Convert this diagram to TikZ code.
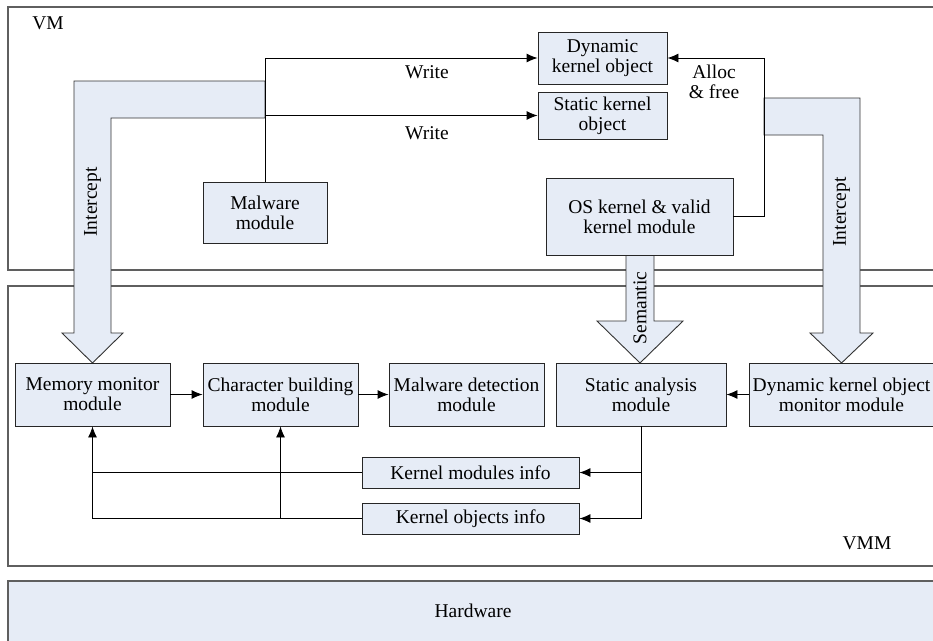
\documentclass[tikz,border=0pt]{standalone}
\usepackage{fontspec}
\setmainfont{Liberation Serif}
\newfontfamily\diagfont{Liberation Serif}
\usetikzlibrary{arrows.meta}
\definecolor{boxfill}{RGB}{230,236,246}
\definecolor{framegray}{RGB}{95,95,95}
\begin{document}
\begin{tikzpicture}[x=1pt,y=-1pt,
  txt/.style={font=\diagfont\fontsize{19.5}{20}\selectfont, inner sep=0pt, align=center},
  box/.style={txt, draw=black!85, fill=boxfill, line width=0.9pt},
  arr/.style={-{Latex[length=11pt,width=9pt]}, line width=0.9pt},
  ln/.style={line width=0.9pt},
  frame/.style={draw=framegray, line width=1.2pt},
  big/.style={draw=black!80, fill=boxfill, line width=0.9pt, line join=miter}]
\useasboundingbox (0,0) rectangle (933,640);
\clip (0,0) rectangle (933,640);
% frames
\draw[frame] (8,7) rectangle (945,270);
\draw[frame] (8,286) rectangle (945,566);
\draw[frame, fill=boxfill] (8,581) rectangle (945,660);
\node[txt] (vmlabel) at (48,23) {VM};
\node[txt] (vmmlabel) at (867,543) {VMM};
\node[txt] (hwlabel) at (473,611) {Hardware};
% big arrows
\draw[big] (265,81) -- (74,81) -- (74,333) -- (62,333) -- (92.5,363) -- (123,333) -- (111,333) -- (111,118) -- (265,118) -- cycle;
\draw[big] (764,98) -- (860,98) -- (860,333) -- (873,333) -- (841.5,363) -- (810,333) -- (823,333) -- (823,135) -- (764,135) -- cycle;
\draw[big] (626,255) -- (654,255) -- (654,321) -- (683,321) -- (640,363) -- (597,321) -- (626,321) -- cycle;
\node[txt, rotate=90] (intl) at (92.5,202) {Intercept};
\node[txt, rotate=90] (intr) at (841.5,212) {Intercept};
\node[txt, rotate=90] (sem) at (640,308) {Semantic};
% boxes
\node[box, minimum width=129pt, minimum height=52pt] (dyn) at (602.5,58) {Dynamic\\kernel object};
\node[box, minimum width=129pt, minimum height=47pt] (stat) at (602.5,115.5) {Static kernel\\object};
\node[box, minimum width=187pt, minimum height=77pt] (os) at (639.5,216.5) {OS kernel \& valid\\kernel module};
\node[box, minimum width=124pt, minimum height=61pt] (mal) at (265,212.5) {Malware\\module};
\node[box, minimum width=155pt, minimum height=63pt] (mem) at (92.5,394.5) {Memory monitor\\module};
\node[box, minimum width=155pt, minimum height=63pt] (char) at (280.5,394.5) {Character building\\module};
\node[box, minimum width=155pt, minimum height=63pt] (det) at (466.5,394.5) {Malware detection\\module};
\node[box, minimum width=170pt, minimum height=63pt] (sa) at (641,394.5) {Static analysis\\module};
\node[box, minimum width=185pt, minimum height=63pt] (dmon) at (841.5,394.5) {Dynamic kernel object\\monitor module};
\node[box, minimum width=217pt, minimum height=31pt] (kmod) at (470.5,472.5) {Kernel modules info};
\node[box, minimum width=217pt, minimum height=31pt] (kobj) at (470.5,518.5) {Kernel objects info};
% labels
\node[txt] (w1) at (427,72) {Write};
\node[txt] (w2) at (427,133) {Write};
\node[txt] (af) at (714,81.5) {Alloc\\\& free};
% connectors
\coordinate (ac) at (764,216.5);
\draw[arr] (mal.north) |- (dyn.west);
\draw[arr] (mal.north |- stat.west) -- (stat.west);
\draw[arr] (os.east) -- (ac) |- (dyn.east);
\draw[arr] (mem.east) -- (char.west);
\draw[arr] (char.east) -- (det.west);
\draw[arr] (dmon.west) -- (sa.east);
\draw[arr] (sa.south) |- (kobj.east);
\draw[arr] (sa.south |- kmod.east) -- (kmod.east);
\draw[arr] (kobj.west) -| (mem.south);
\draw[ln] (kmod.west) -- (mem.south |- kmod.west);
\draw[arr] (char.south |- kobj.west) -- (char.south);
\end{tikzpicture}
\end{document}
